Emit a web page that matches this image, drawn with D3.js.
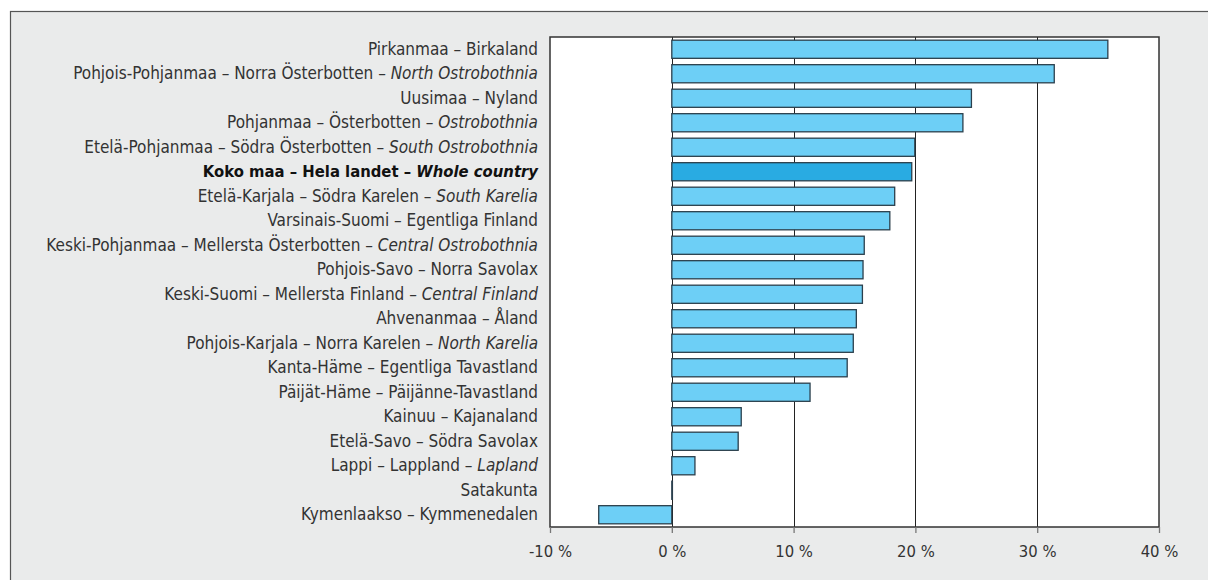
<!DOCTYPE html>
<html>
<head>
<meta charset="utf-8">
<script src="https://cdn.jsdelivr.net/npm/d3@7/dist/d3.min.js"></script>
<style>
  body { margin: 0; background: #fff; }
  text { font-family: "Liberation Sans Narrow", "DejaVu Sans", sans-serif; font-stretch: condensed; }
</style>
</head>
<body>
<script>
/* data */
var regions = ["Pirkanmaa – Birkaland",
	"Pohjois-Pohjanmaa – Norra Österbotten – ",
	"Uusimaa – Nyland",
	"Pohjanmaa – Österbotten – ",
	"Etelä-Pohjanmaa – Södra Österbotten – ",
	"Koko maa – Hela landet – ",
	"Etelä-Karjala – Södra Karelen – ",
	"Varsinais-Suomi – Egentliga Finland",
	"Keski-Pohjanmaa – Mellersta Österbotten – ",
	"Pohjois-Savo – Norra Savolax",
	"Keski-Suomi – Mellersta Finland – ",
	"Ahvenanmaa – Åland",
	"Pohjois-Karjala – Norra Karelen – ",
	"Kanta-Häme – Egentliga Tavastland",
	"Päijät-Häme – Päijänne-Tavastland",
	"Kainuu – Kajanaland",
	"Etelä-Savo – Södra Savolax",
	"Lappi – Lappland – ",
	"Satakunta",
	"Kymenlaakso – Kymmenedalen"];
var regionsEn = ["", "North Ostrobothnia", "", "Ostrobothnia", "South Ostrobothnia",
	"Whole country", "South Karelia", "", "Central Ostrobothnia", "",
	"Central Finland", "", "North Karelia", "", "", "", "", "Lapland", "", ""];
var values = [35.8, 31.4, 24.6, 23.9, 19.95, 19.7, 18.3, 17.9, 15.8, 15.7,
	15.65, 15.15, 14.9, 14.4, 11.35, 5.7, 5.45, 1.9, 0.05, -6.0];
var wholeCountry = 5;
var xTicks = [-10, 0, 10, 20, 30, 40];

var W = 1208, H = 580;
var pl = 550, pr = 1159, pt = 37, pb = 527;

var svg = d3.select("body").append("svg")
	.attr("width", W)
	.attr("height", H);

// outer frame
svg.append("rect")
	.attr("x", 10.5).attr("y", 11.5)
	.attr("width", W).attr("height", H)
	.attr("fill", "#eaebeb")
	.attr("stroke", "#555").attr("stroke-width", 1.2);

var x = d3.scaleLinear().domain([-10, 40]).range([pl, pr]);
var y = d3.scaleBand().domain(d3.range(regions.length)).range([pt, pb]).paddingInner(0.26).paddingOuter(0.13);

// plot area
svg.append("rect")
	.attr("x", pl).attr("y", pt)
	.attr("width", pr - pl).attr("height", pb - pt)
	.attr("fill", "#fff");

// grid lines
svg.append("g").selectAll("line")
	.data(xTicks.slice(1, -1))
	.enter().append("line")
	.attr("x1", function(d){ return Math.round(x(d)) + 0.5; })
	.attr("x2", function(d){ return Math.round(x(d)) + 0.5; })
	.attr("y1", pt).attr("y2", pb)
	.attr("stroke", "#222").attr("stroke-width", 1);

// bars
svg.append("g").selectAll("rect")
	.data(values)
	.enter().append("rect")
	.attr("x", function(d){ return x(Math.min(0, d)); })
	.attr("y", function(d, i){ return y(i); })
	.attr("width", function(d){ return Math.abs(x(d) - x(0)); })
	.attr("height", y.bandwidth())
	.attr("fill", function(d, i){ return i == wholeCountry ? "#29abe2" : "#6dcff6"; })
	.attr("stroke", "#2b3f4c").attr("stroke-width", 1.3);

// plot border
svg.append("path")
	.attr("d", "M" + pl + "," + pt + "H" + pr + "V" + pb + "H" + pl + "Z")
	.attr("fill", "none")
	.attr("stroke", "#333").attr("stroke-width", 1.5);

// x axis
var xAxis = svg.append("g")
	.attr("transform", "translate(0," + pb + ")")
	.call(d3.axisBottom(x).tickValues(xTicks).tickSize(6).tickPadding(12)
		.tickFormat(function(d){ return d + " %"; }));
xAxis.select(".domain").remove();
xAxis.selectAll("line").attr("stroke", "#777").attr("stroke-width", 1.3);
xAxis.selectAll("text")
	.attr("font-size", 16.5).attr("fill", "#333");

// category labels
var labels = svg.append("g").selectAll("text")
	.data(regions)
	.enter().append("text")
	.attr("x", 538)
	.attr("y", function(d, i){ return y(i) + y.bandwidth() / 2 - 0.5; })
	.attr("dy", "0.35em")
	.attr("text-anchor", "end")
	.attr("font-size", function(d, i){ return i == wholeCountry ? 16.5 : 17; })
	.attr("fill", function(d, i){ return i == wholeCountry ? "#111" : "#333"; })
	.attr("font-weight", function(d, i){ return i == wholeCountry ? "bold" : "normal"; });

labels.append("tspan").text(function(d){ return d; });
labels.append("tspan")
	.attr("font-style", "italic")
	.text(function(d, i){ return regionsEn[i]; });
</script>
</body>
</html>
